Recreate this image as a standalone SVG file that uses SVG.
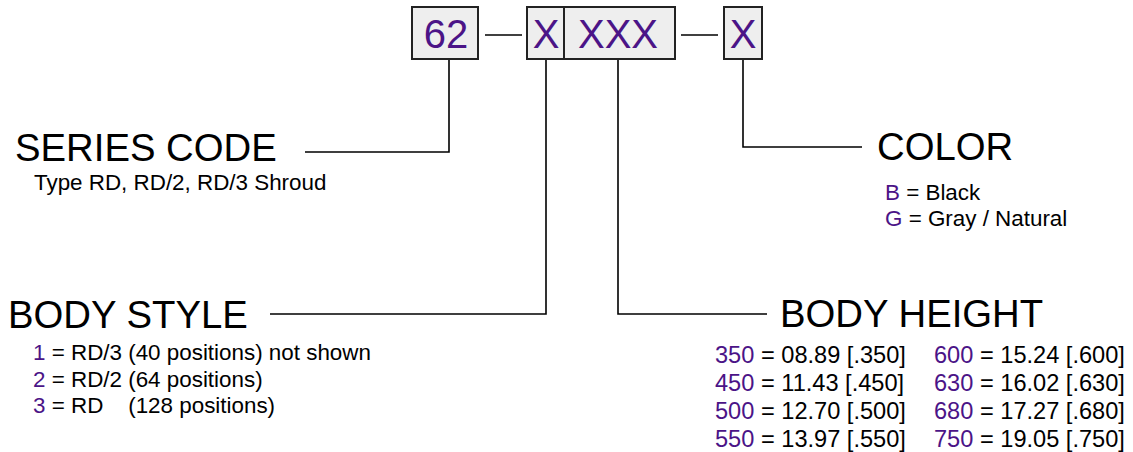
<svg xmlns="http://www.w3.org/2000/svg" width="1133" height="452" viewBox="0 0 1133 452">
<style>
.box{fill:#eeeeee;stroke:#222;stroke-width:2}
.bt{font-family:"Liberation Sans",Arial,sans-serif;font-size:40px;fill:#4b1487;text-anchor:middle}
.h{font-family:"Liberation Sans",Arial,sans-serif;font-size:38.3px;fill:#000}
.t{font-family:"Liberation Sans",Arial,sans-serif;font-size:22.4px;fill:#000}
.t2{font-family:"Liberation Sans",Arial,sans-serif;font-size:23.6px;fill:#000;white-space:pre}
.p{fill:#4b1487}
.ln{fill:none;stroke:#000;stroke-width:1.6}
</style>
<rect width="1133" height="452" fill="#fff"/>
<g id="connectors">
<line class="ln" x1="485" y1="35" x2="522" y2="35"/>
<line class="ln" x1="681" y1="35" x2="718" y2="35"/>
<polyline class="ln" points="449,59 449,152 305,152"/>
<polyline class="ln" points="546,59 546,314 270,314"/>
<polyline class="ln" points="618,59 618,314 767,314"/>
<polyline class="ln" points="743,59 743,147 862,147"/>
</g>
<g id="box-62"><rect class="box" x="412" y="7" width="66" height="52"/><text class="bt" x="446" y="48">62</text></g>
<g id="box-x1"><rect class="box" x="527" y="7" width="37" height="52"/><text class="bt" x="546" y="48">X</text></g>
<g id="box-xxx"><rect class="box" x="564" y="7" width="111" height="52"/><text class="bt" x="618" y="48">XXX</text></g>
<g id="box-x2"><rect class="box" x="724" y="7" width="38" height="52"/><text class="bt" x="743" y="48">X</text></g>
<g id="series-code">
<text class="h" x="15" y="161">SERIES CODE</text>
<text class="t" x="34" y="190">Type RD, RD/2, RD/3 Shroud</text>
</g>
<g id="body-style">
<text class="h" x="8" y="328">BODY STYLE</text>
<text class="t" x="33" y="360"><tspan class="p">1</tspan> = RD/3 (40 positions) not shown</text>
<text class="t" x="33" y="386.5"><tspan class="p">2</tspan> = RD/2 (64 positions)</text>
<text class="t" x="33" y="413" xml:space="preserve"><tspan class="p">3</tspan> = RD    (128 positions)</text>
</g>
<g id="body-height">
<text class="h" x="780" y="327">BODY HEIGHT</text>
<text class="t2" x="715" y="363"><tspan class="p">350</tspan> = 08.89 [.350]</text>
<text class="t2" x="715" y="391"><tspan class="p">450</tspan> = 11.43 [.450]</text>
<text class="t2" x="715" y="419"><tspan class="p">500</tspan> = 12.70 [.500]</text>
<text class="t2" x="715" y="447"><tspan class="p">550</tspan> = 13.97 [.550]</text>
<text class="t2" x="934" y="363"><tspan class="p">600</tspan> = 15.24 [.600]</text>
<text class="t2" x="934" y="391"><tspan class="p">630</tspan> = 16.02 [.630]</text>
<text class="t2" x="934" y="419"><tspan class="p">680</tspan> = 17.27 [.680]</text>
<text class="t2" x="934" y="447"><tspan class="p">750</tspan> = 19.05 [.750]</text>
</g>
<g id="color">
<text class="h" x="877" y="160">COLOR</text>
<text class="t" x="885" y="200"><tspan class="p">B</tspan> = Black</text>
<text class="t" x="885" y="226"><tspan class="p">G</tspan> = Gray / Natural</text>
</g>
</svg>
